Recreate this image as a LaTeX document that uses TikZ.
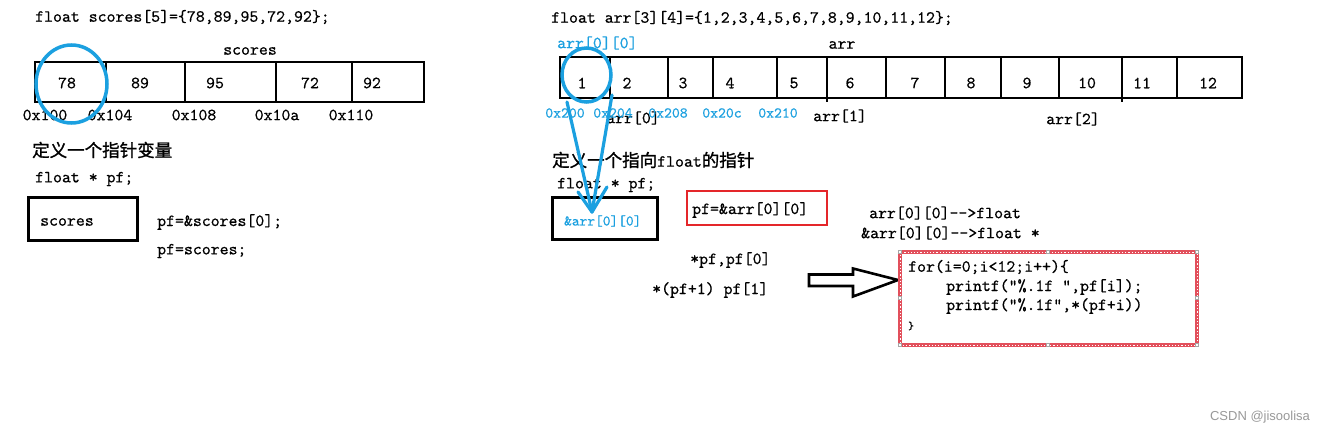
\documentclass[tikz,border=0pt]{standalone}
\usepackage{fontspec}
\newfontfamily\cjk{Noto Sans CJK SC}[FakeBold=1.2]
\newfontfamily\mono{lmmono10-regular}[Extension=.otf, FakeBold=0.6]
\newfontfamily\wmfont{Liberation Sans}
\usetikzlibrary{shapes.geometric}
\definecolor{blueC}{RGB}{27,160,224}
\definecolor{redC}{RGB}{228,38,42}
\definecolor{codeRed}{RGB}{226,80,92}
\tikzset{
  t/.style={font=\mono\fontsize{17}{17}\selectfont, inner sep=0pt, anchor=west},
  tc/.style={t, anchor=center},
  cn/.style={font=\cjk\fontsize{17.5}{17.5}\selectfont, inner sep=0pt, anchor=west},
  addrB/.style={font=\mono\fontsize{15}{15}\selectfont, inner sep=0pt, anchor=center, text=blueC},
  addrK/.style={tc},
  arrbox/.style={draw=black, line width=2.6pt},
  divline/.style={draw=black, line width=2pt},
  bluecirc/.style={draw=blueC, line width=3.5pt},
  bluearrow/.style={draw=blueC, line width=3.2pt, line cap=round, line join=round},
  handle/.style={draw=gray!70, fill=white, line width=0.5pt, minimum size=3pt, inner sep=0pt}
}
\begin{document}
\begin{tikzpicture}[x=1pt,y=-1pt]
\useasboundingbox (0,0) rectangle (1330,433);
\fill[white] (0,0) rectangle (1330,433);

% ---------------- left part ----------------
\node[t] (h1) at (35,17) {float scores[5]=\{78,89,95,72,92\};};
\node[tc] (lblscores) at (250,51) {scores};
\draw[arrbox] (35,62) rectangle (424,102);
\foreach \x in {106,185,276,352} \draw[divline] (\x,62) -- (\x,102);
\node[tc] (s0) at (67,83) {78};
\node[tc] (s1) at (140,83) {89};
\node[tc] (s2) at (215,83) {95};
\node[tc] (s3) at (310,83) {72};
\node[tc] (s4) at (372,83) {92};
\node[addrK] (ad0) at (45,115) {0x100};
\node[addrK] (ad1) at (110,115) {0x104};
\node[addrK] (ad2) at (194,115) {0x108};
\node[addrK] (ad3) at (277,115) {0x10a};
\node[addrK] (ad4) at (351,115) {0x110};
\draw[bluecirc] (71.5,84) ellipse [x radius=35.5pt, y radius=39pt];

\node[cn] (def1) at (32,150) {定义一个指针变量};
\node[t] (decl1) at (35,179) {float * pf;};
\draw[arrbox, line width=3pt] (28,197) rectangle (137,240);
\node[t] (pfbox1) at (40,222) {scores};
\node[t] (as1) at (157,222) {pf=\&scores[0];};
\node[t] (as2) at (157,251) {pf=scores;};

% ---------------- right part ----------------
\node[t] (h2) at (551,18) {float arr[3][4]=\{1,2,3,4,5,6,7,8,9,10,11,12\};};
\node[t, text=blueC] (a00) at (557,43) {arr[0][0]};
\node[tc] (lblarr) at (842,45) {arr};
\draw[arrbox] (560,57) rectangle (1242,98);
\foreach \x in {610,668,713,777,886,945,1001,1059,1177} \draw[divline] (\x,57) -- (\x,98);
\foreach \x in {827,1122} \draw[divline] (\x,57) -- (\x,102);
\node[tc] (v1) at (582,83) {1};
\node[tc] (v2) at (627,83) {2};
\node[tc] (v3) at (683,83) {3};
\node[tc] (v4) at (730,83) {4};
\node[tc] (v5) at (794,83) {5};
\node[tc] (v6) at (850,83) {6};
\node[tc] (v7) at (915,83) {7};
\node[tc] (v8) at (971,83) {8};
\node[tc] (v9) at (1027,83) {9};
\node[tc] (v10) at (1087,83) {10};
\node[tc] (v11) at (1142,83) {11};
\node[tc] (v12) at (1208,83) {12};
\node[tc] (r0) at (633,118) {arr[0]};
\node[tc] (r1) at (840,116) {arr[1]};
\node[tc] (r2) at (1073,119) {arr[2]};
\node[addrB] (b0) at (565,113) {0x200};
\node[addrB] (b1) at (613,113) {0x204};
\node[addrB] (b2) at (668,113) {0x208};
\node[addrB] (b3) at (722,113) {0x20c};
\node[addrB] (b4) at (778,113) {0x210};
\draw[bluecirc] (586.5,75) ellipse [x radius=24.5pt, y radius=27pt];

\node[cn] (def2) at (552,160) {定义一个指向{\mono\fontsize{17}{17}\selectfont float}的指针};
\node[t] (decl2) at (557,185) {float * pf;};
\draw[arrbox, line width=3pt] (552,197) rectangle (657,239);
\node[t, text=blueC, font=\mono\fontsize{14.7}{14.7}\selectfont] (pfbox2) at (564,221) {\&arr[0][0]};

% blue arrow from circle to pointer box
\coordinate (aL) at (567,102);
\coordinate (aR) at (612,95);
\coordinate (tip) at (592,212);
\coordinate (hL) at (578,192);
\coordinate (hR) at (607,187);
\draw[bluearrow] (aL) -- (tip);
\draw[bluearrow] (aR) -- (tip);
\draw[bluearrow] (hL) -- (tip) -- (hR);

\draw[redC, line width=2.8pt] (687,191) rectangle (827,225);
\node[t] (asg) at (692,210) {pf=\&arr[0][0]};
\node[t] (ty1) at (869,213) {arr[0][0]-{}->float};
\node[t] (ty2) at (861,233) {\&arr[0][0]-{}->float *};
\node[t] (e1) at (690,260) {*pf,pf[0]};
\node[t] (e2) at (652,290) {*(pf+1) pf[1]};

% block arrow
\draw[black, line width=2.6pt, line join=miter]
  (809,274.5) -- (853,274.5) -- (853,268.5) -- (898,280) -- (853,296.5) -- (853,286) -- (809,286) -- cycle;

% code box
\draw[codeRed, line width=3.2pt] (900,252) rectangle (1197,345);
\draw[white, line width=0.9pt, dash pattern=on 1.2pt off 2pt] (900,252) rectangle (1197,345);
\foreach \p in {(900,252),(1048,252),(1197,252),(900,298),(1197,298),(900,345),(1048,345),(1197,345)}
  \node[handle] at \p {};
\node[t] (c1) at (908,267) {for(i=0;i<12;i++)\{};
\node[t] (c2) at (946,287) {printf(”\%.1f ”,pf[i]);};
\node[t] (c3) at (946,306) {printf(”\%.1f”,*(pf+i))};
\node[t, font=\mono\fontsize{11}{11}\selectfont] (c4) at (908,326) {\}};

% watermark
\node[font=\wmfont\fontsize{13}{13}\selectfont, text=gray!80, inner sep=0pt] (wm) at (1260,417) {CSDN @jisoolisa};
\end{tikzpicture}
\end{document}
